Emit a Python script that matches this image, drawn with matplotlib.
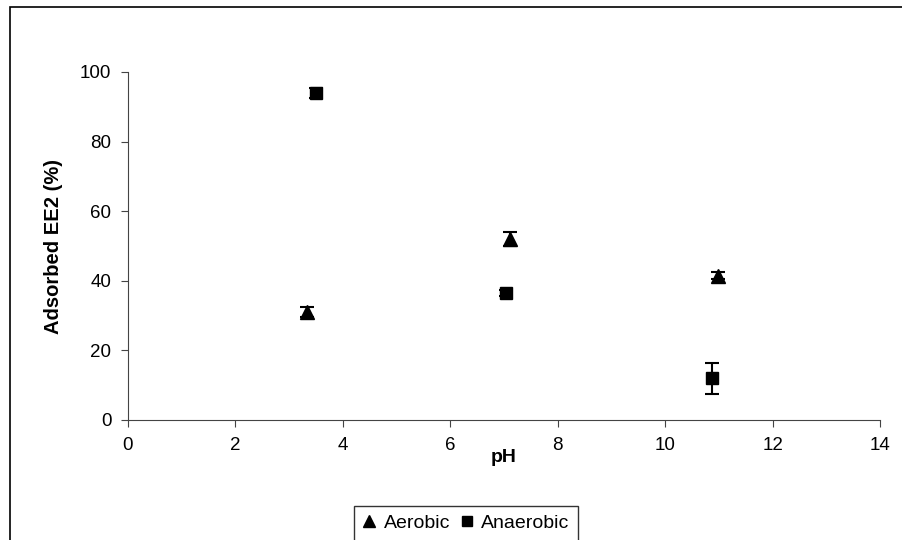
import matplotlib
matplotlib.use("Agg")
import matplotlib.pyplot as plt
from matplotlib.patches import Rectangle

plt.rcParams["font.family"] = ["Liberation Sans", "DejaVu Sans"]

# Aerobic series
aer_ph = [3.33, 7.12, 10.99]
aer_ads = [31.0, 52.0, 41.5]
aer_err = [1.5, 2.0, 1.0]

# Anaerobic series
ana_ph = [3.5, 7.04, 10.88]
ana_ads = [94.0, 36.5, 12.0]
ana_err = [1.5, 1.0, 4.5]

W, H = 903, 540
fig = plt.figure(figsize=(W / 100, H / 100), dpi=100)
ax = fig.add_axes([128 / W, 1 - 420 / H, (880 - 128) / W, (420 - 72) / H])

# outer chart-area border (scan shows only left and top edges)
fig.patches.append(Rectangle((10 / W, -0.1), 1.2, 1 - 7 / H + 0.1,
                             transform=fig.transFigure, fill=False,
                             edgecolor="black", lw=1.2))

ax.errorbar(aer_ph, aer_ads, yerr=aer_err, fmt="^", color="black",
            ms=10, capsize=5, elinewidth=1.5, capthick=1.5, label="Aerobic")
ax.errorbar(ana_ph, ana_ads, yerr=ana_err, fmt="s", color="black",
            ms=9, capsize=5, elinewidth=1.5, capthick=1.5, label="Anaerobic")

ax.set_xlim(0, 14)
ax.set_ylim(0, 100)
ax.set_xticks(range(0, 15, 2))
ax.set_yticks(range(0, 101, 20))
for s in ("top", "right"):
    ax.spines[s].set_visible(False)
for s in ("left", "bottom"):
    ax.spines[s].set_color("#444444")
ax.tick_params(labelsize=13.5, length=5, color="#444444", pad=7)
ax.set_xlabel("pH", fontsize=14, fontweight="bold", labelpad=-3)
ax.set_ylabel("Adsorbed EE2 (%)", fontsize=14.5, fontweight="bold",
              labelpad=12)

handles, labels = ax.get_legend_handles_labels()
handles = [h[0] for h in handles]
leg = fig.legend(handles, labels, loc="upper center",
                 bbox_to_anchor=(466 / W, 1 - 496 / H), ncol=2, fontsize=14,
                 frameon=True, fancybox=False, edgecolor="black",
                 handlelength=0.7, handletextpad=0.4, columnspacing=0.5,
                 borderpad=0.45, markerscale=0.85)
leg.get_frame().set_linewidth(1.0)

fig.savefig("out.png", dpi=100)
